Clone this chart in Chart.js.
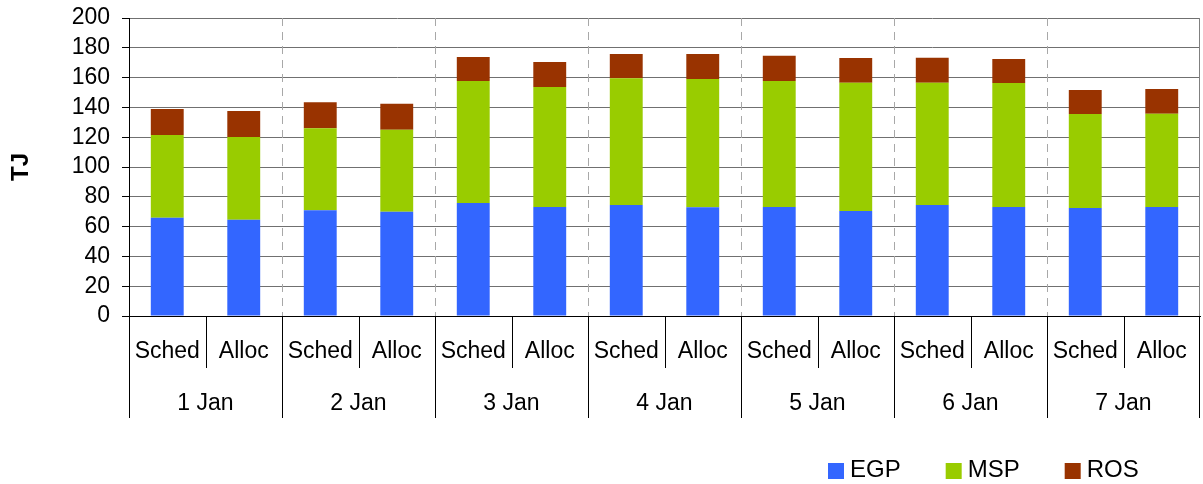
<!DOCTYPE html>
<html>
<head>
<meta charset="utf-8">
<script src="https://cdn.jsdelivr.net/npm/chart.js@4"></script>
<style>
body{margin:0;background:#fff}
canvas{display:block}
</style>
</head>
<body>
<canvas id="graphe" width="1203" height="484"></canvas>
<script>
var jours = ["1 Jan","2 Jan","3 Jan","4 Jan","5 Jan","6 Jan","7 Jan"]
var types = ["Sched","Alloc"]
var egp = [66, 64.6, 71, 70, 75.8, 73.2, 74.5, 73, 73.2, 70.5, 74.5, 73.2, 72.5, 73.2]
var msp = [55.5, 55.5, 55, 55, 81.9, 80.5, 85, 86, 84.5, 86, 82, 83.2, 63, 62.5]
var ros = [17.5, 17.5, 17.5, 17.5, 16.1, 16.8, 16.3, 16.8, 17, 16.7, 16.8, 16.1, 16.1, 16.7]
var yTicks = [0,20,40,60,80,100,120,140,160,180,200]

var police = "'Liberation Sans', Arial, sans-serif"

var etiquettes = []
for(var i=0;i<jours.length;i++){
	for(var j=0;j<types.length;j++){
		etiquettes.push([jours[i], types[j]])
	}
}

function bord(x, i){
	var sx = x.getPixelForValue(i-1)
	var dx = x.getPixelForValue(i)
	return (sx+dx)/2
}

var tableau = {
	id: "tableau",
	beforeDatasetsDraw: function(chart){
		var ctx = chart.ctx
		var a = chart.chartArea
		var x = chart.scales.x
		ctx.save()
		ctx.strokeStyle = "#a8a8a8"
		ctx.lineWidth = 1
		ctx.setLineDash([8,6])
		for(var i=types.length;i<etiquettes.length;i+=types.length){
			var px = Math.round(bord(x,i))+0.5
			ctx.beginPath()
			ctx.moveTo(px, a.top)
			ctx.lineTo(px, a.bottom)
			ctx.stroke()
		}
		ctx.setLineDash([])
		ctx.strokeStyle = "#808080"
		ctx.beginPath()
		ctx.moveTo(a.right-0.5, a.top)
		ctx.lineTo(a.right-0.5, a.bottom)
		ctx.stroke()
		ctx.restore()
	},
	afterDraw: function(chart){
		var ctx = chart.ctx
		var a = chart.chartArea
		var x = chart.scales.x
		ctx.save()
		ctx.strokeStyle = "#000"
		ctx.lineWidth = 1
		for(var i=0;i<=etiquettes.length;i++){
			var px
			if(i==0) px = a.left
			else if(i==etiquettes.length) px = a.right-1
			else px = bord(x,i)
			px = Math.round(px)+0.5
			var bas = (i%types.length==0) ? a.bottom+102 : a.bottom+52
			ctx.beginPath()
			ctx.moveTo(px, a.bottom)
			ctx.lineTo(px, bas)
			ctx.stroke()
		}
		ctx.fillStyle = "#000"
		ctx.textAlign = "center"
		ctx.textBaseline = "alphabetic"
		ctx.font = "23px " + police
		for(var i=0;i<etiquettes.length;i++){
			ctx.fillText(etiquettes[i][1], x.getPixelForValue(i), a.bottom+42)
		}
		for(var i=0;i<jours.length;i++){
			var g = i*types.length
			var cx = (x.getPixelForValue(g)+x.getPixelForValue(g+types.length-1))/2
			ctx.fillText(jours[i], cx, a.bottom+94)
		}
		// legende
		ctx.font = "24px " + police
		ctx.textAlign = "left"
		var lx = 828
		var ds = chart.data.datasets
		for(var i=0;i<ds.length;i++){
			ctx.fillStyle = ds[i].backgroundColor
			ctx.fillRect(lx, 463, 16, 16)
			ctx.fillStyle = "#000"
			ctx.fillText(ds[i].label, lx+22, 477)
			lx += 22 + ctx.measureText(ds[i].label).width + 45
		}
		ctx.restore()
	}
}

new Chart("graphe", {
	type: "bar",
	data: {
		labels: etiquettes,
		datasets: [
			{label: "EGP", data: egp, backgroundColor: "#3366ff"},
			{label: "MSP", data: msp, backgroundColor: "#99cc00"},
			{label: "ROS", data: ros, backgroundColor: "#993300"}
		]
	},
	options: {
		responsive: false,
		animation: false,
		layout: {padding: {top: 18, right: 3, left: 0, bottom: 0}},
		datasets: {bar: {categoryPercentage: 1, barPercentage: 0.43}},
		plugins: {legend: {display: false}, tooltip: {enabled: false}},
		scales: {
			x: {
				stacked: true,
				grid: {display: false},
				ticks: {display: false},
				border: {color: "#000"},
				afterFit: function(s){ s.height = 168 }
			},
			y: {
				stacked: true,
				min: yTicks[0],
				max: yTicks[yTicks.length-1],
				afterBuildTicks: function(s){ s.ticks = yTicks.map(function(v){ return {value: v} }) },
				ticks: {color: "#000", padding: 12, autoSkip: false, font: {family: police, size: 23}},
				grid: {color: "#707070", tickColor: "#000", tickLength: 7},
				border: {color: "#000"},
				title: {display: true, text: "TJ", color: "#000", padding: {top: 7, bottom: 0}, font: {family: police, size: 24, weight: "bold"}},
				afterFit: function(s){ s.width = 129; s.paddingTop = 0; s.paddingBottom = 0 }
			}
		}
	},
	plugins: [tableau]
})
</script>
</body>
</html>
